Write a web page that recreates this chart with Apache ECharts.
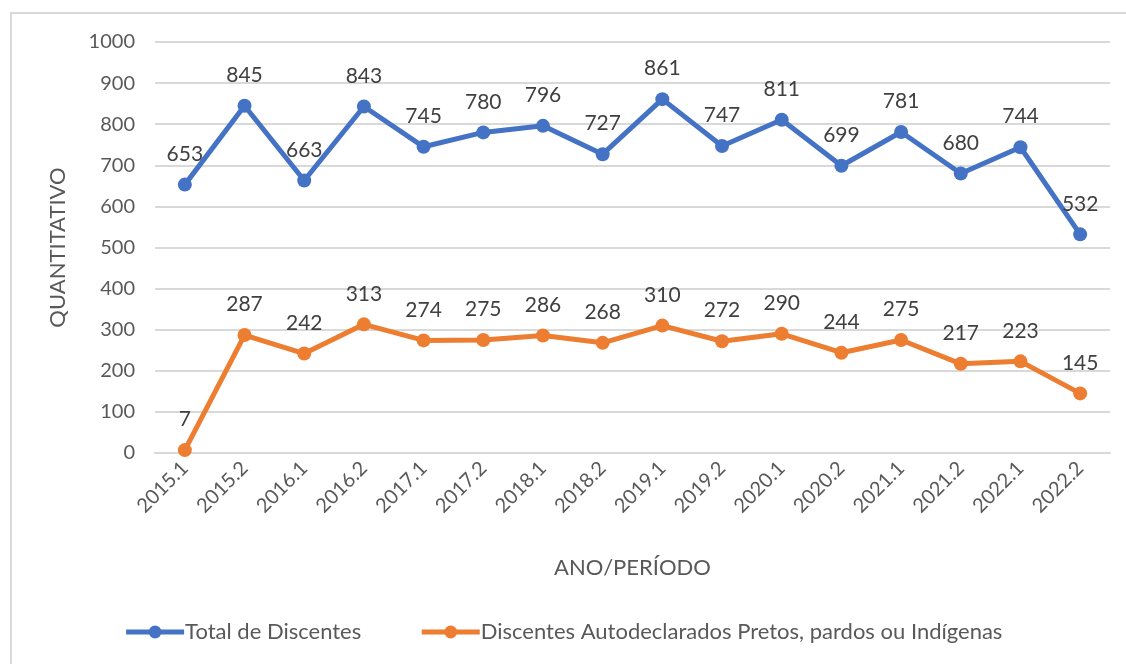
<!DOCTYPE html>
<html><head><meta charset="utf-8">
<script src="https://cdn.jsdelivr.net/npm/echarts@6/dist/echarts.min.js"></script>
<style>html,body{margin:0;padding:0;background:#fff}#frame{position:absolute;left:10px;top:12px;width:1120px;height:660px;border:2px solid #d9d9d9;box-sizing:border-box}#c{position:absolute;left:0;top:0;width:1126px;height:664px}</style>
</head><body><div id="frame"></div><div id="c"></div>
<script>
const categories = ['2015.1','2015.2','2016.1','2016.2','2017.1','2017.2','2018.1','2018.2','2019.1','2019.2','2020.1','2020.2','2021.1','2021.2','2022.1','2022.2'];
const totalDiscentes = [653,845,663,843,745,780,796,727,861,747,811,699,781,680,744,532];
const ppiDiscentes = [7,287,242,313,274,275,286,268,310,272,290,244,275,217,223,145];
const yTicks = [0,100,200,300,400,500,600,700,800,900,1000];
const FONT = 'Lato, "Open Sans", sans-serif';
const chart = echarts.init(document.getElementById('c'));
const labelStyle = {show:true, position:'top', distance:13, color:'#404040', fontSize:21, fontFamily:FONT};
chart.setOption({
  animation:false,
  grid:{left:155, right:16, top:42, bottom:211},
  legend:{bottom:16, left:'center', itemWidth:58, itemHeight:16, itemGap:58,
    lineStyle:{width:5},
    textStyle:{color:'#595959', fontSize:22, fontFamily:FONT, padding:[0,0,0,-4]},
    data:['Total de Discentes','Discentes Autodeclarados Pretos, pardos ou Indígenas']},
  xAxis:{type:'category', data:categories, boundaryGap:true,
    name:'ANO/PERÍODO', nameLocation:'middle', nameGap:104,
    nameTextStyle:{color:'#595959', fontSize:22, fontFamily:FONT},
    axisLine:{lineStyle:{color:'#d9d9d9', width:2}}, axisTick:{show:false},
    axisLabel:{rotate:45, color:'#595959', fontSize:20, fontFamily:FONT, margin:12}},
  yAxis:{type:'value', min:yTicks[0], max:yTicks[yTicks.length-1], interval:100,
    name:'QUANTITATIVO', nameLocation:'middle', nameGap:86,
    nameTextStyle:{color:'#595959', fontSize:22, fontFamily:FONT},
    axisLine:{show:false}, axisTick:{show:false},
    axisLabel:{color:'#595959', fontSize:20, fontFamily:FONT, margin:20, formatter:function(v){return String(v);}},
    splitLine:{lineStyle:{color:'#d9d9d9', width:2}}},
  series:[
    {name:'Total de Discentes', type:'line', data:totalDiscentes, symbol:'circle', symbolSize:14,
     lineStyle:{width:5, color:'#4472C4'}, itemStyle:{color:'#4472C4'}, label:labelStyle},
    {name:'Discentes Autodeclarados Pretos, pardos ou Indígenas', type:'line', data:ppiDiscentes, symbol:'circle', symbolSize:14,
     lineStyle:{width:5, color:'#ED7D31'}, itemStyle:{color:'#ED7D31'}, label:labelStyle}
  ]
});
</script></body></html>
